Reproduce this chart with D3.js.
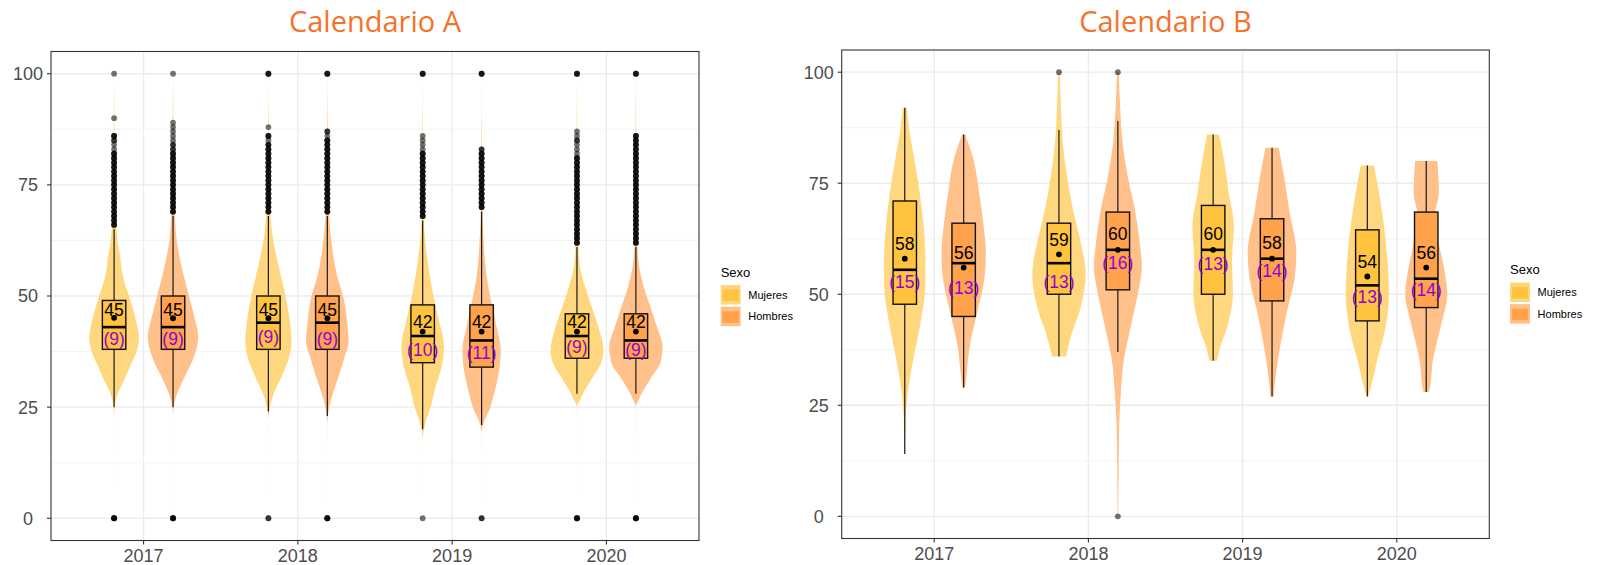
<!DOCTYPE html>
<html><head><meta charset="utf-8">
<script src="https://cdn.jsdelivr.net/npm/d3@7"></script>
<style>body{margin:0;background:#fff} svg{display:block}</style>
</head><body><svg id="c" width="1597" height="565"></svg>
<script>
// ---------------- data ----------------
const years = ["2017","2018","2019","2020"];
const sexes = ["Mujeres","Hombres"];
const yTicks = [0,25,50,75,100];
const yMinor = [12.5,37.5,62.5,87.5];
const titles = ["Calendario A","Calendario B"];
const legendTitle = "Sexo";
// group order: 2017 Mujeres, 2017 Hombres, 2018 Mujeres, 2018 Hombres, ...

// Calendario A box statistics
const aLower  = [25,25, 24,23, 20,21, 28,28];
const aQ1     = [38,38, 38,38, 35,34, 36,36];
const aMedian = [43,43, 44,44, 41,40, 41,40];
const aQ3     = [49,50, 50,50, 48,48, 46,46];
const aUpper  = [65,68, 68,68, 67,69, 61,61];
const aMean   = [45.1,45, 45,45, 42,42, 42,42];
const aSD     = [9,9, 9,9, 10,11, 9,9];
const aMeanLabelAt = [45.5,45.5, 45.4,45.4, 42.7,42.7, 42.7,42.7];
const aSDLabelAt   = [40.3,40.3, 40.8,40.5, 38.0,37.3, 38.5,37.9];

// Calendario B box statistics
const bLower  = [14,29, 36,37, 35,27, 27,28];
const bQ1     = [47.75,45, 50,51, 50,48.5, 44,47];
const bMedian = [55.5,57, 57,60, 60,58, 52,53.5];
const bQ3     = [71,66, 66,68.5, 70,67, 64.5,68.5];
const bUpper  = [92,86, 87,89, 86,83, 79,80];
const bMean   = [58,56, 59,60, 60,58, 54,56];
const bSD     = [15,13, 13,16, 13,14, 13,14];
const bMeanLabelAt = [60.0,57.9, 60.9,62.2, 62.2,60.1, 56.0,58.0];
const bSDLabelAt   = [52.8,51.5, 52.8,57.0, 56.8,55.3, 49.5,51.0];

// violin densities [value, relative width]
const aViolin = [
 [[0,0],[23,.002],[25,.02],[28,.12],[31,.33],[34,.52],[37,.72],[40.5,.83],[44,.75],[47,.63],[50,.5],[53,.35],[56,.25],[59,.2],[62,.12],[66,.07],[70,.04],[80,.02],[90,.01],[100,0]],
 [[0,0],[23,.002],[25.5,.03],[28.4,.16],[32,.4],[36,.68],[40.9,.84],[45,.72],[49,.57],[55,.34],[62.6,.12],[68,.06],[75,.03],[90,.01],[100,0]],
 [[0,0],[22,.002],[24.6,.04],[28.4,.2],[32.2,.46],[36,.68],[39.8,.77],[44,.72],[49,.6],[55,.4],[62.6,.16],[68,.07],[75,.03],[88,.01],[100,0]],
 [[0,0],[21,.002],[24,.04],[28.4,.2],[32.2,.39],[36,.56],[39.8,.71],[44,.66],[49,.56],[55,.31],[62.6,.13],[68,.06],[75,.03],[88,.01],[100,0]],
 [[0,0],[18,.002],[19.9,.04],[22.1,.12],[25.1,.27],[29.6,.43],[34.1,.63],[38.6,.71],[44.6,.54],[50.6,.34],[58.1,.16],[67,.04],[75,.02],[86,.01],[100,0]],
 [[0,0],[19,.002],[21.4,.06],[24.4,.26],[28.1,.42],[32.6,.57],[37.9,.64],[43.1,.5],[49.1,.31],[54.3,.17],[61.8,.07],[69.3,.03],[76,.02],[83,.01],[100,0]],
 [[0,0],[25,.002],[26.6,.1],[28.9,.27],[31.9,.54],[34.9,.8],[37.9,.88],[43.1,.71],[47.6,.49],[52.1,.27],[56.6,.1],[61.1,.05],[70,.02],[87,.01],[100,0]],
 [[0,0],[25,.002],[26.6,.09],[28.9,.26],[31.9,.53],[34.9,.81],[38.6,.89],[43.1,.7],[47.6,.48],[52.1,.26],[56.6,.11],[61.1,.05],[70,.02],[86,.01],[100,0]]
];
const bViolin = [
 [[14,.01],[20.2,.02],[27.7,.1],[35.2,.28],[42.7,.5],[50.2,.67],[53,.69],[57.7,.69],[65.2,.63],[72.8,.5],[80.3,.32],[87,.15],[92,.07]],
 [[29,.05],[31.5,.09],[39,.22],[46.5,.47],[54,.7],[59.2,.74],[65.2,.67],[72.7,.52],[80.3,.33],[86,.05]],
 [[36,.23],[41.2,.43],[46.5,.7],[54.7,.89],[61.5,.73],[69,.47],[76.5,.27],[84,.13],[91.5,.07],[100,.03]],
 [[0,.01],[12.7,.027],[20.2,.043],[27.7,.1],[35.2,.2],[42.7,.43],[50.2,.67],[56.2,.8],[61.5,.73],[69,.57],[76.5,.33],[84,.16],[91.5,.08],[100,.03]],
 [[35,.13],[37.5,.21],[42.7,.47],[50.2,.66],[57.7,.63],[65.2,.69],[72.8,.52],[80.3,.36],[86,.2]],
 [[27,.05],[31.5,.12],[39,.29],[46.5,.51],[54,.76],[59.2,.81],[69,.57],[76.5,.4],[83,.22]],
 [[27,.03],[27.7,.06],[35.2,.33],[42.7,.61],[50.2,.72],[57.7,.67],[65.2,.56],[72.8,.39],[79,.22]],
 [[28,.08],[28.5,.11],[35.2,.22],[42.7,.48],[50.2,.7],[54,.64],[61.5,.42],[67.5,.28],[72.8,.42],[80,.37]]
];

// outliers [value, count]
const aOutliers = [
 [[0,4],[66,3],[67,3],[68,3],[69,3],[70,3],[71,3],[72,3],[73,3],[74,3],[75,3],[76,3],[77,3],[78,3],[79,3],[80,3],[81,3],[82,3],[83,1],[84,1],[85,2],[86,3],[90,1],[100,1]],
 [[0,4],[69,3],[70,3],[71,3],[72,3],[73,3],[74,3],[75,3],[76,3],[77,3],[78,3],[79,3],[80,3],[81,3],[82,3],[83,2],[84,2],[85,1],[86,1],[87,1],[88,1],[89,1],[100,1]],
 [[0,2],[69,3],[70,3],[71,3],[72,3],[73,3],[74,3],[75,3],[76,3],[77,3],[78,3],[79,3],[80,3],[81,3],[82,3],[83,3],[84,3],[85,1],[86,3],[88,1],[100,3]],
 [[0,4],[69,3],[70,3],[71,3],[72,3],[73,3],[74,3],[75,3],[76,3],[77,3],[78,3],[79,3],[80,3],[81,3],[82,3],[83,3],[84,3],[85,3],[86,1],[87,2],[100,3]],
 [[0,1],[68,3],[69,3],[70,3],[71,3],[72,3],[73,3],[74,3],[75,3],[76,3],[77,3],[78,3],[79,3],[80,3],[81,3],[82,3],[83,1],[84,1],[85,1],[86,1],[100,3]],
 [[0,2],[70,3],[71,3],[72,3],[73,3],[74,3],[75,3],[76,3],[77,3],[78,3],[79,3],[80,3],[81,3],[82,3],[83,2],[100,3]],
 [[0,4],[62,3],[63,3],[64,3],[65,3],[66,3],[67,3],[68,3],[69,3],[70,3],[71,3],[72,3],[73,3],[74,3],[75,3],[76,3],[77,3],[78,3],[79,3],[80,3],[81,3],[82,1],[83,1],[84,1],[85,2],[86,1],[87,1],[100,3]],
 [[0,4],[62,3],[63,3],[64,3],[65,3],[66,3],[67,3],[68,3],[69,3],[70,3],[71,3],[72,3],[73,3],[74,3],[75,3],[76,3],[77,3],[78,3],[79,3],[80,3],[81,3],[82,3],[83,3],[84,3],[85,3],[86,3],[100,3]]
];
const bOutliers = [[],[],[[100,1]],[[0,1],[100,1]],[],[],[],[]];

// ---------------- styles ----------------
const violinColor = {Mujeres:"#FFD77F", Hombres:"#FFC08A"};
const boxColor    = {Mujeres:"#FFC33F", Hombres:"#FFA24B"};
const FONT = "'Liberation Sans', Arial, Helvetica, sans-serif";

const svg = d3.select("#c");

function drawPanel(p) {
  const g = svg.append("g");
  const x = d3.scalePoint().domain(years).range([p.left, p.right]).padding(0.6);
  const step = x.step();
  const dx = d3.scalePoint().domain(sexes).range([-0.191*step, 0.191*step]);
  const y = d3.scaleLinear().domain([-5,105]).range([p.bottom, p.top]);
  const wScale = d3.scaleLinear().domain([0,1]).range([0,30]);
  const bw = 0.152*step;

  // grid
  g.selectAll(".gmin").data(yMinor).join("line")
    .attr("x1",p.left).attr("x2",p.right).attr("y1",d=>y(d)).attr("y2",d=>y(d))
    .attr("stroke","#EEEEEE").attr("stroke-width",0.7);
  g.selectAll(".gmaj").data(yTicks).join("line")
    .attr("x1",p.left).attr("x2",p.right).attr("y1",d=>y(d)).attr("y2",d=>y(d))
    .attr("stroke","#EBEBEB").attr("stroke-width",1.3);
  g.selectAll(".gv").data(years).join("line")
    .attr("x1",d=>x(d)).attr("x2",d=>x(d)).attr("y1",p.top).attr("y2",p.bottom)
    .attr("stroke","#EBEBEB").attr("stroke-width",1.3);

  const groups = [];
  years.forEach((yr,i)=>sexes.forEach((s,j)=>groups.push({yr, s, k:i*2+j, cx:x(yr)+dx(s)})));

  // violins
  groups.forEach(d=>{
    const area = d3.area()
      .y(v=>y(v[0]))
      .x0(v=>d.cx - wScale(v[1]))
      .x1(v=>d.cx + wScale(v[1]))
      .curve(d3.curveMonotoneY);
    g.append("path").attr("d", area(p.violin[d.k])).attr("fill", violinColor[d.s]);
  });

  // boxplots
  groups.forEach(d=>{
    const k=d.k, cx=d.cx;
    g.append("line").attr("x1",cx).attr("x2",cx).attr("y1",y(p.lower[k])).attr("y2",y(p.q1[k]))
      .attr("stroke","#1a1a1a").attr("stroke-width",1.2);
    g.append("line").attr("x1",cx).attr("x2",cx).attr("y1",y(p.q3[k])).attr("y2",y(p.upper[k]))
      .attr("stroke","#1a1a1a").attr("stroke-width",1.2);
    g.append("rect").attr("x",cx-bw/2).attr("width",bw)
      .attr("y",y(p.q3[k])).attr("height",y(p.q1[k])-y(p.q3[k]))
      .attr("fill",boxColor[d.s]).attr("stroke","#111").attr("stroke-width",1.4);
    g.append("line").attr("x1",cx-bw/2).attr("x2",cx+bw/2).attr("y1",y(p.median[k])).attr("y2",y(p.median[k]))
      .attr("stroke","#000").attr("stroke-width",2.6);
    // outliers
    p.outliers[k].forEach(o=>{
      for(let n=0;n<o[1];n++){
        g.append("circle").attr("cx",cx).attr("cy",y(o[0])).attr("r",2.9)
          .attr("fill","#000").attr("fill-opacity",0.55);
      }
    });
    // mean
    g.append("circle").attr("cx",cx).attr("cy",y(p.mean[k])).attr("r",2.9).attr("fill","#000");
    // labels
    g.append("text").attr("x",cx).attr("y",y(p.meanLabelAt[k]))
      .attr("text-anchor","middle").attr("font-family",FONT).attr("font-size",17.5)
      .attr("fill","#000").text(d3.format(".0f")(p.mean[k]));
    g.append("text").attr("x",cx).attr("y",y(p.sdLabelAt[k])).attr("dy","0.36em")
      .attr("text-anchor","middle").attr("font-family",FONT).attr("font-size",17.5)
      .attr("fill","#9400D3").text("(" + p.sd[k] + ")");
  });

  // axes
  g.selectAll(".yt").data(yTicks).join("line")
    .attr("x1",p.left-4).attr("x2",p.left).attr("y1",d=>y(d)).attr("y2",d=>y(d))
    .attr("stroke","#333").attr("stroke-width",1.1);
  g.selectAll(".yl").data(yTicks).join("text")
    .attr("x",p.left-23).attr("y",d=>y(d)).attr("dy","0.36em")
    .attr("text-anchor","middle").attr("font-family",FONT).attr("font-size",18)
    .attr("fill","#4D4D4D").text(d=>d);
  g.selectAll(".xt").data(years).join("line")
    .attr("x1",d=>x(d)).attr("x2",d=>x(d)).attr("y1",p.bottom).attr("y2",p.bottom+4)
    .attr("stroke","#333").attr("stroke-width",1.1);
  g.selectAll(".xl").data(years).join("text")
    .attr("x",d=>x(d)).attr("y",p.bottom+21)
    .attr("text-anchor","middle").attr("font-family",FONT).attr("font-size",18)
    .attr("fill","#4D4D4D").text(d=>d);

  // border
  g.append("rect").attr("x",p.left).attr("y",p.top).attr("width",p.right-p.left).attr("height",p.bottom-p.top)
    .attr("fill","none").attr("stroke","#333").attr("stroke-width",1.1);

  // title
  g.append("text").attr("x",(p.left+p.right)/2).attr("y",32)
    .attr("text-anchor","middle").attr("font-family","'Open Sans', sans-serif").attr("font-size",29)
    .attr("fill","#F4732B").text(p.title);

  // legend
  const lg = g.append("g").attr("transform",`translate(${p.legX},${p.legY})`);
  lg.append("text").attr("x",0).attr("y",0).attr("font-family",FONT).attr("font-size",13)
    .attr("fill","#000").text(legendTitle);
  sexes.forEach((s,i)=>{
    const ky = 8.5 + i*21.7;
    lg.append("rect").attr("x",0).attr("y",ky).attr("width",20).attr("height",19.5).attr("fill",violinColor[s]);
    lg.append("rect").attr("x",1.8).attr("y",ky+4.5).attr("width",16.4).attr("height",11.5).attr("fill",boxColor[s]);
    lg.append("text").attr("x",27.6).attr("y",ky+9.75).attr("dy","0.36em")
      .attr("font-family",FONT).attr("font-size",11).attr("fill","#000").text(s);
  });
}

drawPanel({left:51, right:699, top:51.5, bottom:540.5, title:titles[0],
  lower:aLower, q1:aQ1, median:aMedian, q3:aQ3, upper:aUpper, mean:aMean, sd:aSD,
  meanLabelAt:aMeanLabelAt, sdLabelAt:aSDLabelAt, violin:aViolin, outliers:aOutliers,
  legX:720.7, legY:276.5});
drawPanel({left:841.7, right:1489.3, top:50, bottom:538.5, title:titles[1],
  lower:bLower, q1:bQ1, median:bMedian, q3:bQ3, upper:bUpper, mean:bMean, sd:bSD,
  meanLabelAt:bMeanLabelAt, sdLabelAt:bSDLabelAt, violin:bViolin, outliers:bOutliers,
  legX:1510, legY:274});
</script></body></html>
